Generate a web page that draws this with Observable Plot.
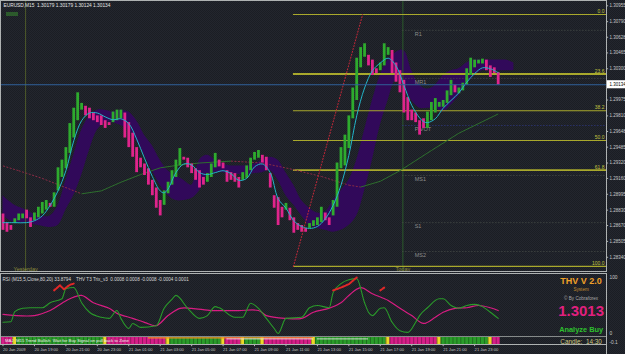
<!DOCTYPE html>
<html><head><meta charset="utf-8">
<script src="https://cdn.jsdelivr.net/npm/d3@7"></script>
<script src="https://cdn.jsdelivr.net/npm/@observablehq/plot@0.6"></script>
<style>
html,body{margin:0;padding:0;background:#1f2229;}
#chart{position:relative;width:625px;height:354px;overflow:hidden;
 background:repeating-conic-gradient(#23262e 0 25%, #1b1e24 0 50%) 0 0/2px 2px;
 font-family:"Liberation Sans",Arial,sans-serif;}
#chart svg{position:absolute;left:0;}
#flag{position:absolute;left:6px;top:12px;width:12px;height:4px;background:#2c5a2c;}
</style></head><body><div id="chart"><div id="flag"></div></div>
<script>
// ---------- DATA ----------
const ohlcTitle = "EURUSD,M15  1.30179 1.30179 1.30124 1.30134";
const bid = 1.30134;
const priceTicks = [1.30955,1.30790,1.30628,1.30465,1.30300,1.29975,1.29810,1.29648,1.29485,1.29320,1.29160,1.28995,1.28830,1.28670,1.28505,1.28340];

const barOpen = [1.2879,1.2870,1.2867,1.2869,1.2872,1.2874,1.2883,1.2875,1.2872,1.2875,
 1.2879,1.2883,1.2890,1.2886,1.2903,1.2917,1.2926,1.2942,1.2958,1.2976,
 1.2987,1.2991,1.2989,1.2984,1.2981,1.2981,1.2976,1.2974,1.2974,1.2976,
 1.2978,1.2984,1.2974,1.2963,1.2948,1.2937,1.2931,1.2926,1.2914,1.2906,
 1.2893,1.2888,1.2900,1.2909,1.2917,1.2929,1.2938,1.2937,1.2931,1.2926,
 1.2924,1.2917,1.2912,1.2917,1.2927,1.2935,1.2932,1.2924,1.2922,1.2921,
 1.2917,1.2914,1.2916,1.2924,1.2935,1.2937,1.2940,1.2938,1.2921,1.2898,
 1.2896,1.2886,1.2883,1.2885,1.2875,1.2869,1.2867,1.2864,1.2864,1.2866,
 1.2867,1.2870,1.2880,1.2875,1.2877,1.2886,1.2926,1.2929,1.2947,1.2978,
 1.2997,1.3031,1.3042,1.3044,1.3039,1.3030,1.3028,1.3033,1.3044,1.3049,
 1.3036,1.3028,1.3018,1.3000,1.2987,1.2984,1.2976,1.2978,1.2968,1.2976,
 1.2984,1.2990,1.2990,1.2994,1.3002,1.3013,1.3004,1.3007,1.3013,1.3023,
 1.3031,1.3035,1.3035,1.3039,1.3033,1.3031,1.3026];
const barClose = [1.2862,1.2860,1.2862,1.2874,1.2879,1.2879,1.2874,1.2865,1.2880,1.2886,
 1.2891,1.2893,1.2886,1.2901,1.2927,1.2935,1.2948,1.2973,1.2989,1.3005,
 1.2994,1.2981,1.2978,1.2976,1.2974,1.2971,1.2968,1.2971,1.2985,1.2987,
 1.2987,1.2958,1.2948,1.2938,1.2922,1.2927,1.2919,1.2909,1.2898,1.2885,
 1.2877,1.2903,1.2912,1.2924,1.2935,1.2947,1.2935,1.2927,1.2921,1.2914,
 1.2906,1.2909,1.2921,1.2931,1.2942,1.2928,1.2926,1.2912,1.2914,1.2912,
 1.2906,1.2922,1.2929,1.2937,1.2943,1.2945,1.2932,1.2924,1.2906,1.2885,
 1.2867,1.2875,1.2890,1.2872,1.2859,1.2862,1.2860,1.2860,1.2869,1.2872,
 1.2875,1.2886,1.2872,1.2867,1.2893,1.2932,1.2948,1.2961,1.2981,1.3010,
 1.3041,1.3052,1.3056,1.3033,1.3023,1.3025,1.3036,1.3056,1.3052,1.3025,
 1.3016,1.3005,1.2984,1.2976,1.2976,1.2974,1.2961,1.2968,1.2985,1.2995,
 1.2999,1.2995,1.2997,1.3007,1.3018,1.3005,1.3010,1.3015,1.3030,1.3041,
 1.3039,1.3039,1.3040,1.3028,1.3021,1.3025,1.3013];

const fastIdx = [0,3,6,8,10,12,14,16,18,20,22,24,26,28,30,32,34,36,38,40,41,42,44,46,48,50,52,54,56,58,60,62,64,66,68,70,72,74,76,78,80,82,84,86,88,90,92,94,96,98,100,102,104,106,107,108,110,112,114,116,118,120,122,124,126];
const fastVal = [1.2870,1.2870,1.2870,1.2872,1.2877,1.2888,1.2903,1.2924,1.2955,1.2976,1.2984,1.2984,1.2980,1.2977,1.2978,1.2973,1.2957,1.2937,1.2918,1.2903,1.2901,1.2905,1.2922,1.2931,1.2930,1.2922,1.2920,1.2922,1.2924,1.2921,1.2914,1.2916,1.2928,1.2931,1.2922,1.2895,1.2885,1.2872,1.2866,1.2864,1.2866,1.2874,1.2888,1.2909,1.2940,1.2981,1.3010,1.3028,1.3036,1.3041,1.3033,1.3013,1.2992,1.2979,1.2975,1.2974,1.2978,1.2989,1.2997,1.3005,1.3016,1.3025,1.3031,1.3030,1.3026];

const slowIdx = [0,4,10,15,20,25,30,35,40,45,50,58,66,73,81,88,91,96,101,109,116,126];
const slowVal = [1.2929,1.2924,1.2916,1.2908,1.2900,1.2903,1.2912,1.2920,1.2927,1.2930,1.2932,1.2934,1.2932,1.2926,1.2918,1.2909,1.2907,1.2913,1.2924,1.2945,1.2963,1.2983];

const cloudIdx = [0,3,6,9,12,14,16,18,20,22,24,26,28,30,32,34,36,38,40,42,44,46,48,50,52,54,56,58,60,62,64,66,68,70,72,74,76,78,80,82,84,86,88,90,92,94,96,98,100,102,104,106,108,110,112,114,116,118,120,122,124,126,128,130];
const cloudHi = [1.2898,1.2888,1.2883,1.2877,1.2877,1.2888,1.2914,1.2940,1.2966,1.2981,1.2987,1.2987,1.2985,1.2987,1.2985,1.2976,1.2961,1.2950,1.2935,1.2924,1.2919,1.2914,1.2909,1.2935,1.2940,1.2935,1.2931,1.2929,1.2929,1.2929,1.2931,1.2935,1.2938,1.2935,1.2922,1.2909,1.2893,1.2885,1.2880,1.2881,1.2893,1.2903,1.2914,1.2935,1.2966,1.2997,1.3023,1.3039,1.3047,1.3049,1.3028,1.3013,1.3009,1.3013,1.3023,1.3028,1.3030,1.3036,1.3039,1.3039,1.3039,1.3039,1.3039,1.3036];
const cloudLo = [1.2877,1.2870,1.2870,1.2867,1.2865,1.2867,1.2883,1.2898,1.2919,1.2945,1.2966,1.2974,1.2974,1.2971,1.2966,1.2955,1.2940,1.2924,1.2909,1.2898,1.2893,1.2893,1.2895,1.2903,1.2919,1.2922,1.2922,1.2921,1.2920,1.2919,1.2921,1.2922,1.2924,1.2914,1.2898,1.2888,1.2877,1.2867,1.2864,1.2862,1.2860,1.2862,1.2867,1.2877,1.2903,1.2935,1.2971,1.2997,1.3018,1.3013,1.2997,1.2989,1.2989,1.2989,1.2985,1.2992,1.3002,1.3013,1.3023,1.3028,1.3028,1.3028,1.3028,1.3028];

const fibLow = {bar: 73.9, price: 1.28245};
const fibHigh = {bar: 91.5, price: 1.30864};
const fibLevels = [0, 23.6, 38.2, 50.0, 61.8, 100.0];

const pivotNames = ["R1","MR1","PIVOT","MS1","S1","MS2"];
const pivotPrices = [1.3070,1.3020,1.2971,1.2919,1.2870,1.2840];

const yesterdayBar = 5.75, todayBar = 101.75;

const rsiIdx = [0,2,3,5,7,10,12,15,16,18,20,22,25,27,29,30,32,33,35,39,41,43,44,47,50,52,54,55,59,61,63,65,67,69,70,72,76,78,80,83,84,86,88,90,92,93,94,96,97,99,101,103,105,106,108,111,112,114,116,118,120,122,124,126];
const rsiVal = [20,21,39,45,46,46,55,62,80,82,55,38,29,27,41,27,9,18,11,14,45,61,68,45,27,32,48,46,29,29,54,45,27,9,0,27,29,46,50,46,73,89,96,98,55,38,32,45,46,20,5,2,20,32,46,62,62,50,45,50,52,48,38,27];
const sigIdx = [0,8,12,15,17,20,23,27,29,33,36,39,42,45,48,53,56,60,65,67,72,76,79,83,86,88,91,94,98,101,104,107,110,112,115,118,121,124,126];
const sigVal = [34,32,41,54,62,68,55,45,36,27,20,14,32,45,45,41,41,41,41,32,27,27,38,45,55,68,82,71,59,45,32,18,29,38,45,46,50,46,41];
const redMarkSeg = [0,0,0,0,0,1,1,1,1,2,2];
const redMarkIdx = [13,14.5,15.5,17,18,84,86,88,90,96,97];
const redMarkVal = [77,86,79,87,89,77,82,88,100,77,82];

const stripStart = [0,3,4,26,27,42,43,56,57,61,62,66,67,79,80,98,99,111,112,124,125];
const stripState = ["bear","flat","bull","flat","bear","flat","bull","flat","bear","flat","bull","flat","bear","flat","bull","flat","bear","flat","bull","flat","bear"];
const orangeRanges = [[37,79]];
const whiteRanges = [[57,79],[80,93]];
const stripText = "MAJ  M15 Trend Bullish  Wait for Buy Signal on pull back to Zone";

const timeBars = [0,8,16,24,32,40,48,56,64,72,80,88,96,104,112,120];
const timeLabels = ["20 Jan 2009","20 Jan 19:00","20 Jan 21:00","20 Jan 23:00","21 Jan 01:00","21 Jan 03:00","21 Jan 05:00","21 Jan 07:00","21 Jan 09:00","21 Jan 11:00","21 Jan 13:00","21 Jan 15:00","21 Jan 17:00","21 Jan 19:00","21 Jan 21:00","21 Jan 23:00"];

const subHeader = "RSI (M15,5,Close,80,20) 33.8794    THV T3 Trix_v3  0.0008 0.0008 -0.0008 -0.0004 0.0001";
const subAxis = [{v:100,t:"100"},{v:0,t:"0"},{v:-16,t:"-0.1"}];

// ---------- BUILD ----------
const FONT = "Liberation Sans, Arial, sans-serif";
const W = 625, MR = 19;
const xDomain = [-0.636, 153.56];
const GREEN = "#2eab2e", PINK = "#e0248c";

const bars = barOpen.map((o, i) => ({i, o, c: barClose[i]}));
const fast = fastIdx.map((i, k) => ({i, v: fastVal[k]}));
const cloud = cloudIdx.map((i, k) => ({i, hi: cloudHi[k], lo: cloudLo[k]}));
const slowLinks = slowIdx.slice(1).map((i, k) => ({x1: slowIdx[k], y1: slowVal[k], x2: i, y2: slowVal[k+1], up: slowVal[k+1] >= slowVal[k]}));
const fib = fibLevels.map(l => ({l, price: fibHigh.price - (fibHigh.price - fibLow.price) * l / 100}));
const pivots = pivotNames.map((n, k) => ({n, p: pivotPrices[k]}));

const main = Plot.plot({
  width: W, height: 271, marginLeft: 0, marginRight: MR, marginTop: 0, marginBottom: 0,
  x: {domain: xDomain, axis: null},
  y: {domain: [1.28192, 1.3101], axis: null},
  color: {type: "identity"},
  style: {background: "transparent", fontFamily: FONT, overflow: "visible"},
  marks: [
    Plot.areaY(cloud, {x: "i", y1: "lo", y2: "hi", fill: "#31095a", curve: "catmull-rom"}),
    Plot.ruleX([yesterdayBar], {stroke: "#4e5a2a"}),
    Plot.ruleX([todayBar], {stroke: "#2c5a2c"}),
    Plot.ruleY(pivots, {y: "p", x1: () => todayBar, x2: () => xDomain[1], stroke: d => d.n === "PIVOT" ? "#2e3a8a" : "#4a504a", strokeDasharray: "1,2"}),
    Plot.text(pivots, {x: () => todayBar + 3, y: "p", text: "n", dy: 4, textAnchor: "start", fill: "#8c8c8c", fontSize: 5.5}),
    Plot.ruleY(fib, {y: "price", x1: () => fibLow.bar, x2: () => xDomain[1], stroke: "#a9a92c", strokeWidth: d => (d.l === 23.6 || d.l === 61.8) ? 1.8 : 1.1}),
    Plot.text(fib, {y: "price", text: d => d.l.toFixed(1), frameAnchor: "right", textAnchor: "end", dx: -2, dy: -3, fill: "#c2c240", fontSize: 5}),
    Plot.link(slowLinks.filter(d => !d.up), {x1: "x1", y1: "y1", x2: "x2", y2: "y2", stroke: "#8a2a44", strokeDasharray: "2,1.5"}),
    Plot.link(slowLinks.filter(d => d.up), {x1: "x1", y1: "y1", x2: "x2", y2: "y2", stroke: "#2d6e2d"}),
    Plot.ruleX(bars, {x: "i", y1: "o", y2: "c", stroke: d => d.c >= d.o ? GREEN : PINK, strokeWidth: 2.8}),
    Plot.line(fast, {x: "i", y: "v", stroke: "#22b5c8", curve: "catmull-rom", strokeWidth: 1}),
    Plot.line([fibLow, fibHigh], {x: "bar", y: "price", stroke: "#b82838", strokeDasharray: "1,2", strokeWidth: 1.1}),
    Plot.ruleY([bid], {stroke: "#30609a"}),
    Plot.ruleY(priceTicks, {y: d => d, x1: () => xDomain[1], x2: () => 154.1, stroke: "#aeb2b2"}),
    Plot.text(priceTicks, {y: d => d, text: d => d.toFixed(5), frameAnchor: "right", textAnchor: "start", dx: 3, fill: "#c8c8c8", fontSize: 4.5}),
    Plot.rect([bid], {x1: () => 153.8, x2: () => 158.5, y1: d => d - 0.00042, y2: d => d + 0.00042, fill: "#ffffff"}),
    Plot.text([bid], {y: d => d, text: d => d.toFixed(5), frameAnchor: "right", textAnchor: "start", dx: 3, fill: "#000000", fontSize: 4.5}),
    Plot.text([ohlcTitle], {frameAnchor: "top-left", dx: 3, dy: 3, text: d => d, fill: "#e6e6e6", fontSize: 4.8}),
    Plot.text([{b: yesterdayBar, t: "Yesterday"}, {b: todayBar, t: "Today"}], {x: "b", text: "t", frameAnchor: "bottom", dy: -0.5, fill: "#8e8e3c", fontSize: 5.5}),
    Plot.frame({stroke: "#aeb2b2"})
  ]
});
main.style.top = "0px";

const rsi = rsiIdx.map((i, k) => ({i, v: rsiVal[k]}));
const sig = sigIdx.map((i, k) => ({i, v: sigVal[k]}));
const red = redMarkIdx.map((i, k) => ({i, v: redMarkVal[k], s: redMarkSeg[k]}));
const strip = stripStart.map((s, k) => ({s, e: k + 1 < stripStart.length ? stripStart[k+1] : bars.length, st: stripState[k]}));
const stripColor = {bear: "#d61e88", bull: "#2a9c2a", flat: "#ecd828"};
const times = timeBars.map((b, k) => ({b, t: timeLabels[k]}));
const cx = 147.1;

const sub = Plot.plot({
  width: W, height: 83, marginLeft: 0, marginRight: MR, marginTop: 2, marginBottom: 10,
  x: {domain: xDomain, axis: null},
  y: {domain: [-19.6, 107.1], axis: null},
  color: {type: "identity"},
  style: {background: "transparent", fontFamily: FONT, overflow: "visible"},
  marks: [
    Plot.line(sig, {x: "i", y: "v", stroke: "#d81c82", strokeWidth: 1.2, curve: "catmull-rom"}),
    Plot.line(rsi, {x: "i", y: "v", stroke: "#2a9a2a", strokeWidth: 1.1, curve: "monotone-x"}),
    Plot.line(red, {x: "i", y: "v", z: "s", stroke: "#e02828", strokeWidth: 2, strokeDasharray: "2,1"}),
    Plot.ruleY([-5.4], {stroke: "#8a8e8e"}),
    Plot.rect(strip, {x1: d => d.s - 0.5, x2: d => d.e - 0.5, y1: () => -7.1, y2: () => -19.6, fill: d => stripColor[d.st]}),
    Plot.ruleX(bars, {x: d => d.i - 0.5, y1: () => -7.6, y2: () => -19.6, stroke: "#000000", strokeOpacity: 0.3}),
    Plot.ruleY(orangeRanges, {y: () => -7.6, x1: d => d[0], x2: d => d[1], stroke: "#f08a20", strokeWidth: 1.3}),
    Plot.ruleY(whiteRanges, {y: () => -9.6, x1: d => d[0], x2: d => d[1], stroke: "#f4f4f4", strokeWidth: 0.8}),
    Plot.text([stripText], {x: () => 0.5, y: () => -13.4, text: d => d, textAnchor: "start", fill: "#eeeeee", fontSize: 4.3}),
    Plot.ruleX(times, {x: "b", y1: () => -19.6, y2: () => -23.5, stroke: "#b8b8b8"}),
    Plot.text(times, {x: "b", y: () => -29.5, text: "t", textAnchor: "start", fill: "#c0c0c0", fontSize: 4.1}),
    Plot.text([subHeader], {frameAnchor: "top-left", dx: 2, dy: 4, text: d => d, fill: "#d8d8d8", fontSize: 4.6}),
    Plot.text(subAxis, {y: "v", text: "t", frameAnchor: "right", textAnchor: "start", dx: 3, fill: "#c8c8c8", fontSize: 4.8}),
    Plot.text(["THV V 2.0"], {x: () => cx, y: () => 92.9, text: d => d, fill: "#f0a028", fontSize: 9, fontWeight: "bold"}),
    Plot.text(["System"], {x: () => cx, y: () => 77.7, text: d => d, fill: "#c08a30", fontSize: 4.6}),
    Plot.text(["\u00a9 By Cobraforex"], {x: () => cx, y: () => 61.6, text: d => d, fill: "#a8a8a8", fontSize: 4.6}),
    Plot.text([bid], {x: () => cx, y: () => 39.3, text: d => d.toFixed(4), fill: "#e0207e", fontSize: 15, fontWeight: "bold"}),
    Plot.text(["Analyze Buy"], {x: () => cx, y: () => 7.1, text: d => d, fill: "#2ec02e", fontSize: 7.4, fontWeight: "bold"}),
    Plot.text(["Candle:  14:30"], {x: () => cx, y: () => -15.2, text: d => d, fill: "#d0c880", fontSize: 6.4}),
    Plot.ruleX([xDomain[1]], {y1: () => -19.6, y2: () => -40, stroke: "#aeb2b2"}),
    Plot.frame({stroke: "#aeb2b2"})
  ]
});
sub.style.top = "271px";

const chart = document.getElementById("chart");
chart.appendChild(main);
chart.appendChild(sub);
</script></body></html>
